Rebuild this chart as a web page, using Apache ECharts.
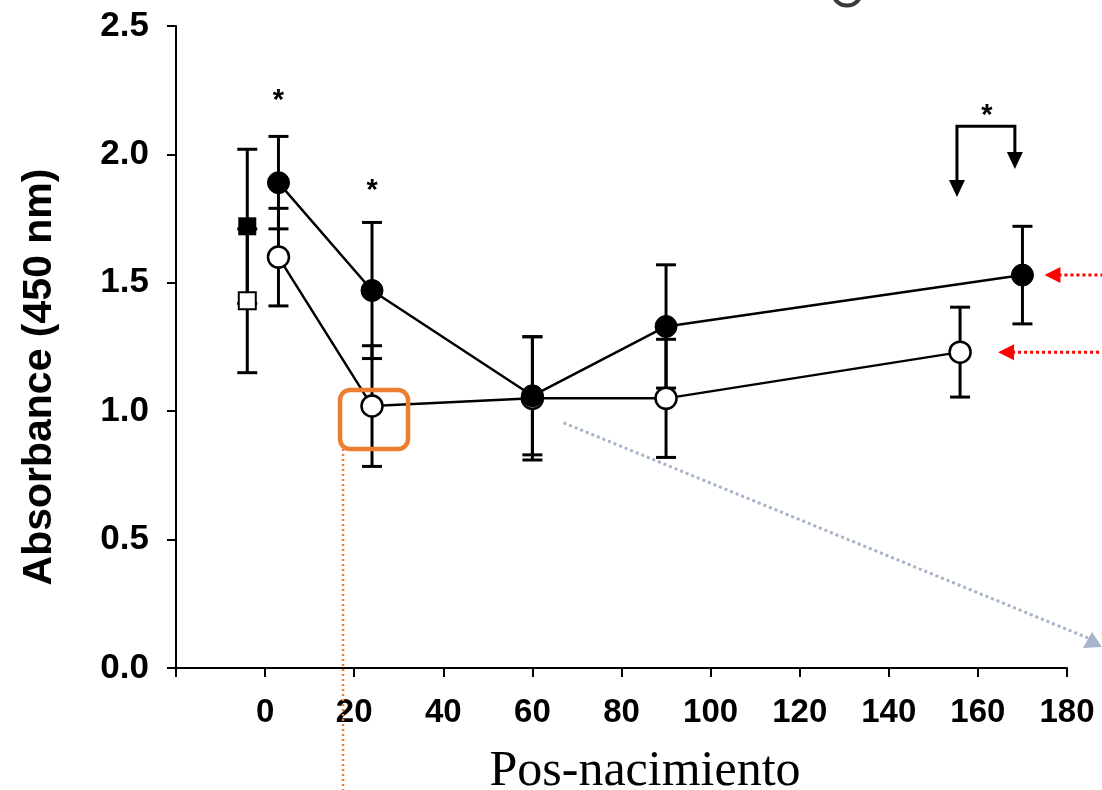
<!DOCTYPE html>
<html>
<head>
<meta charset="utf-8">
<script src="https://cdn.jsdelivr.net/npm/echarts@6/dist/echarts.min.js"></script>
<style>
html,body{margin:0;padding:0;background:#fff;}
#chart{width:1102px;height:790px;}
</style>
</head>
<body>
<div id="chart"></div>
<script>
// ---- data ----
const xTicks = [-20, 0, 20, 40, 60, 80, 100, 120, 140, 160, 180];
const yTicks = [0, 0.5, 1.0, 1.5, 2.0, 2.5];
const filledX = [3, 24, 60, 90, 170];
const filledY = [1.89, 1.47, 1.06, 1.33, 1.53];
const filledErr = [0.18, 0.265, 0.23, 0.24, 0.19];
const openX = [3, 24, 60, 90, 156];
const openY = [1.60, 1.02, 1.05, 1.05, 1.23];
const openErr = [0.19, 0.235, 0.24, 0.23, 0.175];
const sqX = [-4];
const filledSqY = [1.72];
const filledSqErr = [0.30];
const openSqY = [1.43];
const openSqErr = [0.28];
const xName = 'Pos-nacimiento';
const yName = 'Absorbance (450 nm)';

const zip = (xs, ys) => xs.map((x, i) => [x, ys[i]]);
const zipE = (xs, ys, es) => xs.map((x, i) => [x, ys[i], es[i]]);

const chart = echarts.init(document.getElementById('chart'), null, {renderer: 'canvas'});

function errRender(params, api) {
  const x = api.value(0), y = api.value(1), e = api.value(2);
  const top = api.coord([x, y + e]);
  const bot = api.coord([x, y - e]);
  const hw = 10;
  const st = {stroke: '#000', lineWidth: 3};
  return {
    type: 'group',
    children: [
      {type: 'line', shape: {x1: top[0], y1: top[1], x2: bot[0], y2: bot[1]}, style: st},
      {type: 'line', shape: {x1: top[0] - hw, y1: top[1], x2: top[0] + hw, y2: top[1]}, style: st},
      {type: 'line', shape: {x1: bot[0] - hw, y1: bot[1], x2: bot[0] + hw, y2: bot[1]}, style: st}
    ]
  };
}

const tickFont = {fontFamily: 'Liberation Sans', fontWeight: 'bold', color: '#000'};

chart.setOption({
  animation: false,
  backgroundColor: '#fff',
  grid: {left: 176, right: 35, top: 26, bottom: 122, containLabel: false},
  xAxis: {
    type: 'value', min: -20, max: 180, interval: 20,
    axisLine: {show: true, onZero: false, lineStyle: {color: '#000', width: 2}},
    axisTick: {show: true, length: 9, lineStyle: {color: '#000', width: 2}},
    axisLabel: Object.assign({margin: 28, fontSize: 33, formatter: v => (v < 0 ? '' : String(v))}, tickFont),
    splitLine: {show: false}
  },
  yAxis: {
    type: 'value', min: 0, max: 2.5, interval: 0.5,
    axisLine: {show: true, onZero: false, lineStyle: {color: '#000', width: 2}},
    axisTick: {show: true, length: 9, lineStyle: {color: '#000', width: 2}},
    axisLabel: Object.assign({margin: 27, fontSize: 35, formatter: v => v.toFixed(1)}, tickFont),
    splitLine: {show: false}
  },
  series: [
    {type: 'custom', renderItem: errRender, data: zipE(sqX, filledSqY, filledSqErr), z: 1},
    {type: 'custom', renderItem: errRender, data: zipE(sqX, openSqY, openSqErr), z: 1},
    {type: 'custom', renderItem: errRender, data: zipE(filledX, filledY, filledErr), z: 1},
    {type: 'custom', renderItem: errRender, data: zipE(openX, openY, openErr), z: 1},
    {type: 'line', data: zip(openX, openY), symbol: 'circle', symbolSize: 21,
      lineStyle: {color: '#000', width: 2.5},
      itemStyle: {color: '#fff', borderColor: '#000', borderWidth: 2.5}, z: 3},
    {type: 'line', data: zip(filledX, filledY), symbol: 'circle', symbolSize: 22,
      lineStyle: {color: '#000', width: 2.5},
      itemStyle: {color: '#000', borderColor: '#000', borderWidth: 1}, z: 4},
    {type: 'scatter', data: zip(sqX, filledSqY), symbol: 'rect', symbolSize: 18,
      itemStyle: {color: '#000', opacity: 1}, z: 4},
    {type: 'scatter', data: zip(sqX, openSqY), symbol: 'rect', symbolSize: 17,
      itemStyle: {color: '#fff', borderColor: '#000', borderWidth: 2, opacity: 1}, z: 4}
  ]
});

// ---- annotations anchored to data coordinates ----
const P = (x, y) => chart.convertToPixel({gridIndex: 0}, [x, y]);
const starPos = [[3, 2.23], [24, 1.88], [162, 2.17]];
const g = [];
starPos.forEach(s => {
  const p = P(s[0], s[1]);
  g.push({type: 'text', x: p[0], y: p[1] - 9, z: 10,
    style: {text: '*', fontFamily: 'Liberation Sans', fontWeight: 'bold', fontSize: 29,
      fill: '#000', align: 'center', verticalAlign: 'top'}});
});

// bracket with down arrows
const bl = P(155.3, 2.11), br = P(168.3, 2.11);
const blTip = P(155.3, 1.834), brTip = P(168.3, 1.943);
const ah = 15, aw = 8;
g.push({type: 'polyline', z: 10, shape: {points: [[bl[0], blTip[1] - ah], [bl[0], bl[1]], [br[0], br[1]], [br[0], brTip[1] - ah]]},
  style: {stroke: '#000', lineWidth: 3, fill: null}});
[[bl[0], blTip[1]], [br[0], brTip[1]]].forEach(t => {
  g.push({type: 'polygon', z: 10, shape: {points: [[t[0], t[1]], [t[0] - aw, t[1] - ah - 2], [t[0] + aw, t[1] - ah - 2]]},
    style: {fill: '#000'}});
});

// red dotted arrows pointing at last points
const redTargets = [[filledX[4], filledY[4], 22], [openX[4], openY[4], 38]];
redTargets.forEach(r => {
  const p = P(r[0], r[1]);
  const tipX = p[0] + r[2];
  const y = p[1];
  g.push({type: 'line', z: 10, shape: {x1: tipX + 14, y1: y, x2: 1102, y2: y},
    style: {stroke: '#FF0000', lineWidth: 3, lineDash: [3, 3]}});
  g.push({type: 'polygon', z: 10, shape: {points: [[tipX, y], [tipX + 16, y - 8], [tipX + 16, y + 8]]},
    style: {fill: '#FF0000'}});
});

// orange rounded box around the open point at day 24 and dotted drop line
const ob = P(openX[1], openY[1]);
g.push({type: 'rect', z: 11, shape: {x: ob[0] - 32, y: ob[1] - 16, width: 68, height: 59, r: 10},
  style: {stroke: '#ED7D31', lineWidth: 4.5, fill: null}});
g.push({type: 'line', z: 11, shape: {x1: ob[0] - 29, y1: ob[1] + 43, x2: ob[0] - 29, y2: 790},
  style: {stroke: '#ED7D31', lineWidth: 2.5, lineDash: [2, 3]}});

// grey dotted arrow
const gs = P(67, 0.955);
g.push({type: 'line', z: 10, shape: {x1: gs[0], y1: gs[1], x2: 1088, y2: 638},
  style: {stroke: '#A8B4CA', lineWidth: 3, lineDash: [3, 3]}});
g.push({type: 'polygon', z: 10, shape: {points: [[1102, 647], [1083, 648], [1092, 632]]},
  style: {fill: '#A8B4CA'}});

// partial glyph cut off at the top edge
g.push({type: 'circle', z: 10, shape: {cx: 847, cy: -9, r: 14.5},
  style: {stroke: '#3a3a3a', lineWidth: 4, fill: null}});

// axis titles
g.push({type: 'text', x: 645, y: 797, z: 10,
  style: {text: xName, fontFamily: 'Liberation Serif', fontSize: 50, fill: '#000',
    align: 'center', verticalAlign: 'bottom'}});
g.push({type: 'text', x: 40, y: 377, rotation: Math.PI / 2, z: 10,
  style: {text: yName, fontFamily: 'Liberation Sans', fontWeight: 'bold', fontSize: 41, fill: '#000',
    align: 'center', verticalAlign: 'middle'}});

chart.setOption({graphic: g});
</script>
</body>
</html>
